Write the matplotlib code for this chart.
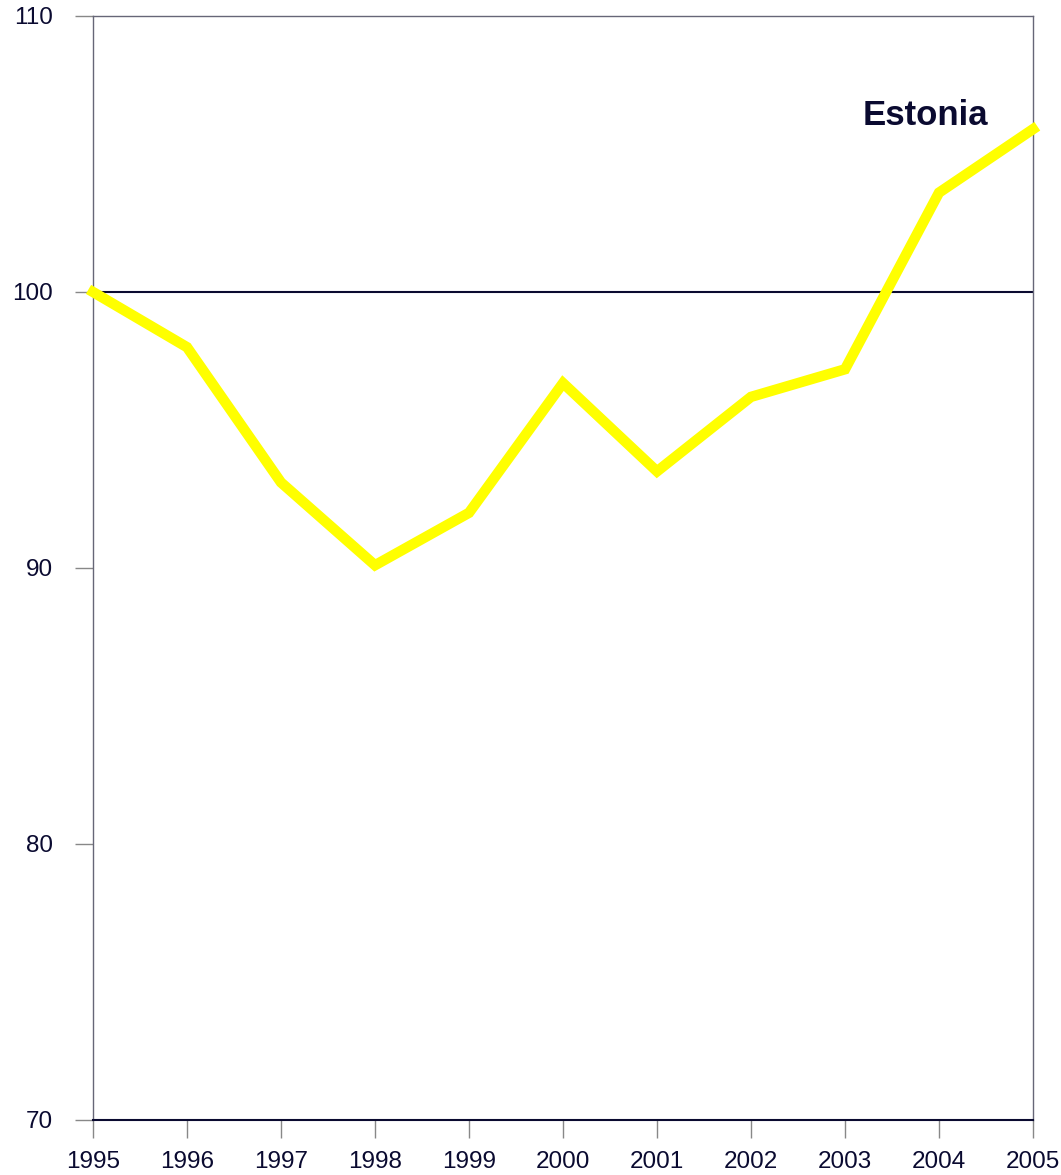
import matplotlib.pyplot as plt

years = [1995, 1996, 1997, 1998, 1999, 2000, 2001, 2002, 2003, 2004, 2005]
estonia = [100.0, 98.0, 93.1, 90.1, 92.0, 96.7, 93.5, 96.2, 97.2, 103.6, 105.9]
yticks = [70, 80, 90, 100, 110]

plt.rcParams['font.family'] = ['Liberation Sans', 'DejaVu Sans']

fig = plt.figure(figsize=(10.61, 11.75), dpi=100)
ax = fig.add_axes([93 / 1061, 1 - 1120 / 1175, 940 / 1061, 1104 / 1175])

navy = '#0a0a30'
ax.axhline(100, color=navy, lw=1.5, zorder=2)
ax.plot(years, estonia, color='#ffff00', lw=7.5, solid_joinstyle='miter', zorder=3, clip_on=False)

ax.set_xlim(1995, 2005)
ax.set_ylim(70, 110)
ax.set_xticks(years)
ax.set_yticks(yticks)
ax.tick_params(axis='both', length=13, width=1, color='#888888', labelsize=17.5,
               labelcolor=navy)
ax.tick_params(axis='x', pad=9)
ax.tick_params(axis='y', pad=16)

for s in ['top', 'right', 'left']:
    ax.spines[s].set_color('#666677')
    ax.spines[s].set_linewidth(1)
ax.spines['bottom'].set_color(navy)
ax.spines['bottom'].set_linewidth(1.5)

ax.text(2004.52, 106.05, 'Estonia', fontsize=25, fontweight='bold', color=navy,
        ha='right', va='baseline')

fig.savefig('out.png', dpi=100)
